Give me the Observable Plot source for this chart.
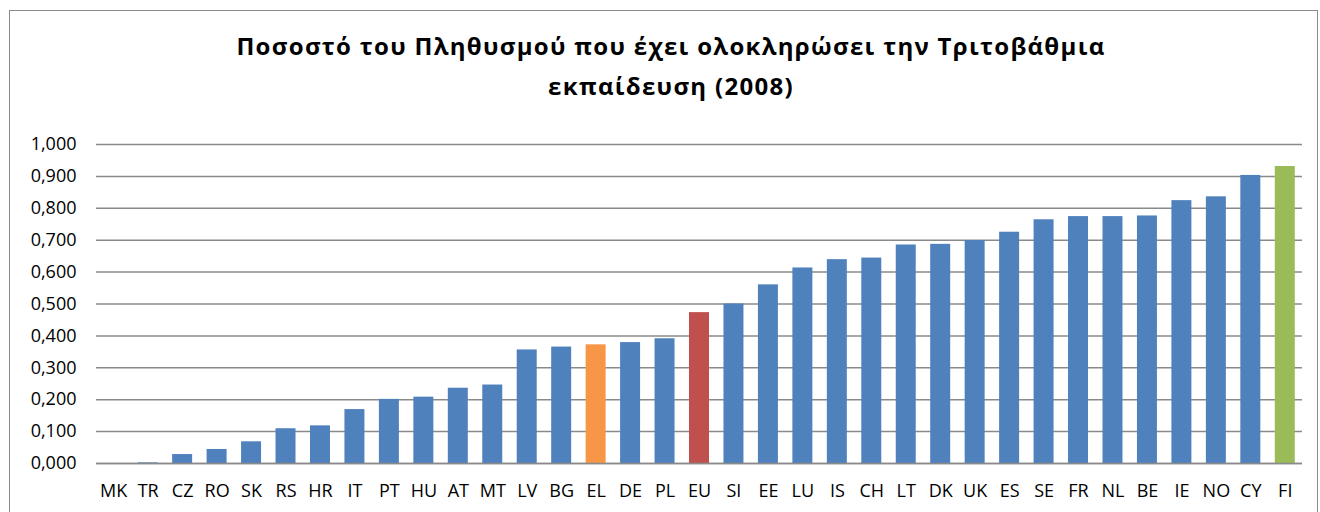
<!DOCTYPE html>
<html><head><meta charset="utf-8">
<script src="https://cdn.jsdelivr.net/npm/d3@7"></script>
<script src="https://cdn.jsdelivr.net/npm/@observablehq/plot@0.6"></script>
<style>
body{margin:0;background:#fff;width:1320px;height:512px;overflow:hidden;position:relative;font-family:"Open Sans",sans-serif}
#frame{position:absolute;left:9px;top:10px;width:1309px;height:520px;border:1px solid #8a8a8a;box-sizing:border-box}
#title{position:absolute;left:0;width:1342px;top:26px;text-align:center;font-weight:bold;font-size:24px;letter-spacing:1.3px;line-height:40px;color:#000;margin:0}
#chart{position:absolute;left:0;top:120px}
</style></head>
<body>
<div id="frame"></div>
<div id="title">Ποσοστό του Πληθυσμού που έχει ολοκληρώσει την Τριτοβάθμια<br>εκπαίδευση (2008)</div>
<div id="chart"></div>
<script>
const categories = ["MK","TR","CZ","RO","SK","RS","HR","IT","PT","HU","AT","MT","LV","BG","EL","DE","PL","EU","SI","EE","LU","IS","CH","LT","DK","UK","ES","SE","FR","NL","BE","IE","NO","CY","FI"];
const values = [0.000,0.002,0.028,0.044,0.068,0.109,0.118,0.169,0.201,0.208,0.236,0.246,0.356,0.365,0.372,0.379,0.391,0.473,0.500,0.560,0.613,0.639,0.644,0.685,0.687,0.699,0.725,0.764,0.774,0.774,0.776,0.824,0.836,0.903,0.931];
const groupNames = ["other","EL","EU","FI"];
const groupColors = ["#4f81bd","#f79646","#c0504d","#9bbb59"];
const yTicks = [0,0.1,0.2,0.3,0.4,0.5,0.6,0.7,0.8,0.9,1.0];

const data = categories.map((c,i)=>({c, v: values[i], g: groupNames.includes(c) ? c : "other"}));
const fmt = d => d3.format(".3f")(d).replace(".", ",");

const chart = Plot.plot({
  width: 1320, height: 392,
  marginLeft: 96, marginRight: 18, marginTop: 24, marginBottom: 49,
  style: {fontFamily: '"Open Sans", sans-serif', fontSize: "18px", color: "#000", background: "transparent", overflow: "visible"},
  x: {domain: categories, paddingInner: 0.42, paddingOuter: 0.21, round: false, label: null, tickSize: 0, tickPadding: 21},
  y: {domain: [0, 1], ticks: yTicks, tickFormat: fmt, label: null, tickSize: 0, tickPadding: 20},
  color: {domain: groupNames, range: groupColors},
  marks: [
    Plot.ruleY(yTicks, {stroke: "#8a8a8a", strokeWidth: 1.5}),
    Plot.barY(data, {x: "c", y: "v", fill: "g"}),
    Plot.ruleY([0], {stroke: "#8a8a8a", strokeWidth: 1.5})
  ]
});
document.getElementById("chart").appendChild(chart);
</script>
</body></html>
